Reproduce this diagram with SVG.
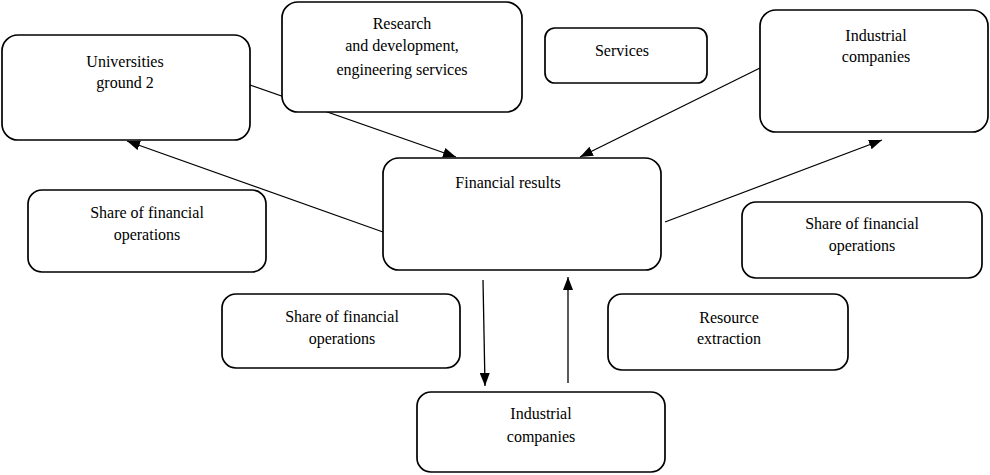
<svg xmlns="http://www.w3.org/2000/svg" width="990" height="475" viewBox="0 0 990 475" font-family="Liberation Serif, DejaVu Serif, Times New Roman, serif">
<style>
.box{fill:#fff;stroke:#000;stroke-width:1.7}
.t{font-family:'Liberation Serif','DejaVu Serif',serif;font-size:16px;fill:#000;text-anchor:middle}
.c{stroke:#000;stroke-width:1.3;fill:none}
</style>
<defs>
<marker id="ah" viewBox="0 0 13 10" refX="13" refY="5" markerWidth="13" markerHeight="10" markerUnits="userSpaceOnUse" orient="auto">
<path d="M0,0 L13,5 L0,10 Z" fill="#000"/>
</marker>
</defs>
<rect width="990" height="475" fill="#fff"/>
<g id="connectors">
<line class="c" x1="383" y1="232" x2="127" y2="141" marker-end="url(#ah)"/>
<line class="c" x1="250" y1="85" x2="456" y2="157" marker-end="url(#ah)"/>
<line class="c" x1="760" y1="68" x2="580" y2="157" marker-end="url(#ah)"/>
<line class="c" x1="665" y1="222" x2="882" y2="140" marker-end="url(#ah)"/>
<line class="c" x1="483" y1="280" x2="485" y2="386" marker-end="url(#ah)"/>
<line class="c" x1="568" y1="383" x2="568" y2="277" marker-end="url(#ah)"/>
</g>
<g id="universities">
<rect class="box" x="2" y="35" width="248" height="105" rx="16"/>
<text class="t" x="125" y="67">Universities</text>
<text class="t" x="125" y="88">ground 2</text>
</g>
<g id="research">
<rect class="box" x="282" y="2" width="240" height="110" rx="16"/>
<text class="t" x="402" y="29">Research</text>
<text class="t" x="402" y="51">and development,</text>
<text class="t" x="402" y="75">engineering services</text>
</g>
<g id="services">
<rect class="box" x="545" y="28" width="162" height="55" rx="10"/>
<text class="t" x="622" y="56">Services</text>
</g>
<g id="industrial-top">
<rect class="box" x="760" y="10" width="228" height="122" rx="16"/>
<text class="t" x="876" y="41">Industrial</text>
<text class="t" x="876" y="62">companies</text>
</g>
<g id="financial-results">
<rect class="box" x="383" y="158" width="278" height="112" rx="16"/>
<text class="t" x="508" y="188">Financial results</text>
</g>
<g id="share-left">
<rect class="box" x="28" y="190" width="238" height="82" rx="14"/>
<text class="t" x="147" y="218">Share of financial</text>
<text class="t" x="147" y="240">operations</text>
</g>
<g id="share-right">
<rect class="box" x="742" y="202" width="240" height="76" rx="14"/>
<text class="t" x="862" y="229">Share of financial</text>
<text class="t" x="862" y="251">operations</text>
</g>
<g id="share-middle">
<rect class="box" x="222" y="294" width="238" height="74" rx="14"/>
<text class="t" x="342" y="322">Share of financial</text>
<text class="t" x="342" y="344">operations</text>
</g>
<g id="resource">
<rect class="box" x="608" y="294" width="240" height="76" rx="14"/>
<text class="t" x="729" y="323">Resource</text>
<text class="t" x="729" y="344">extraction</text>
</g>
<g id="industrial-bottom">
<rect class="box" x="417" y="392" width="248" height="80" rx="14"/>
<text class="t" x="541" y="419">Industrial</text>
<text class="t" x="541" y="442">companies</text>
</g>
</svg>
